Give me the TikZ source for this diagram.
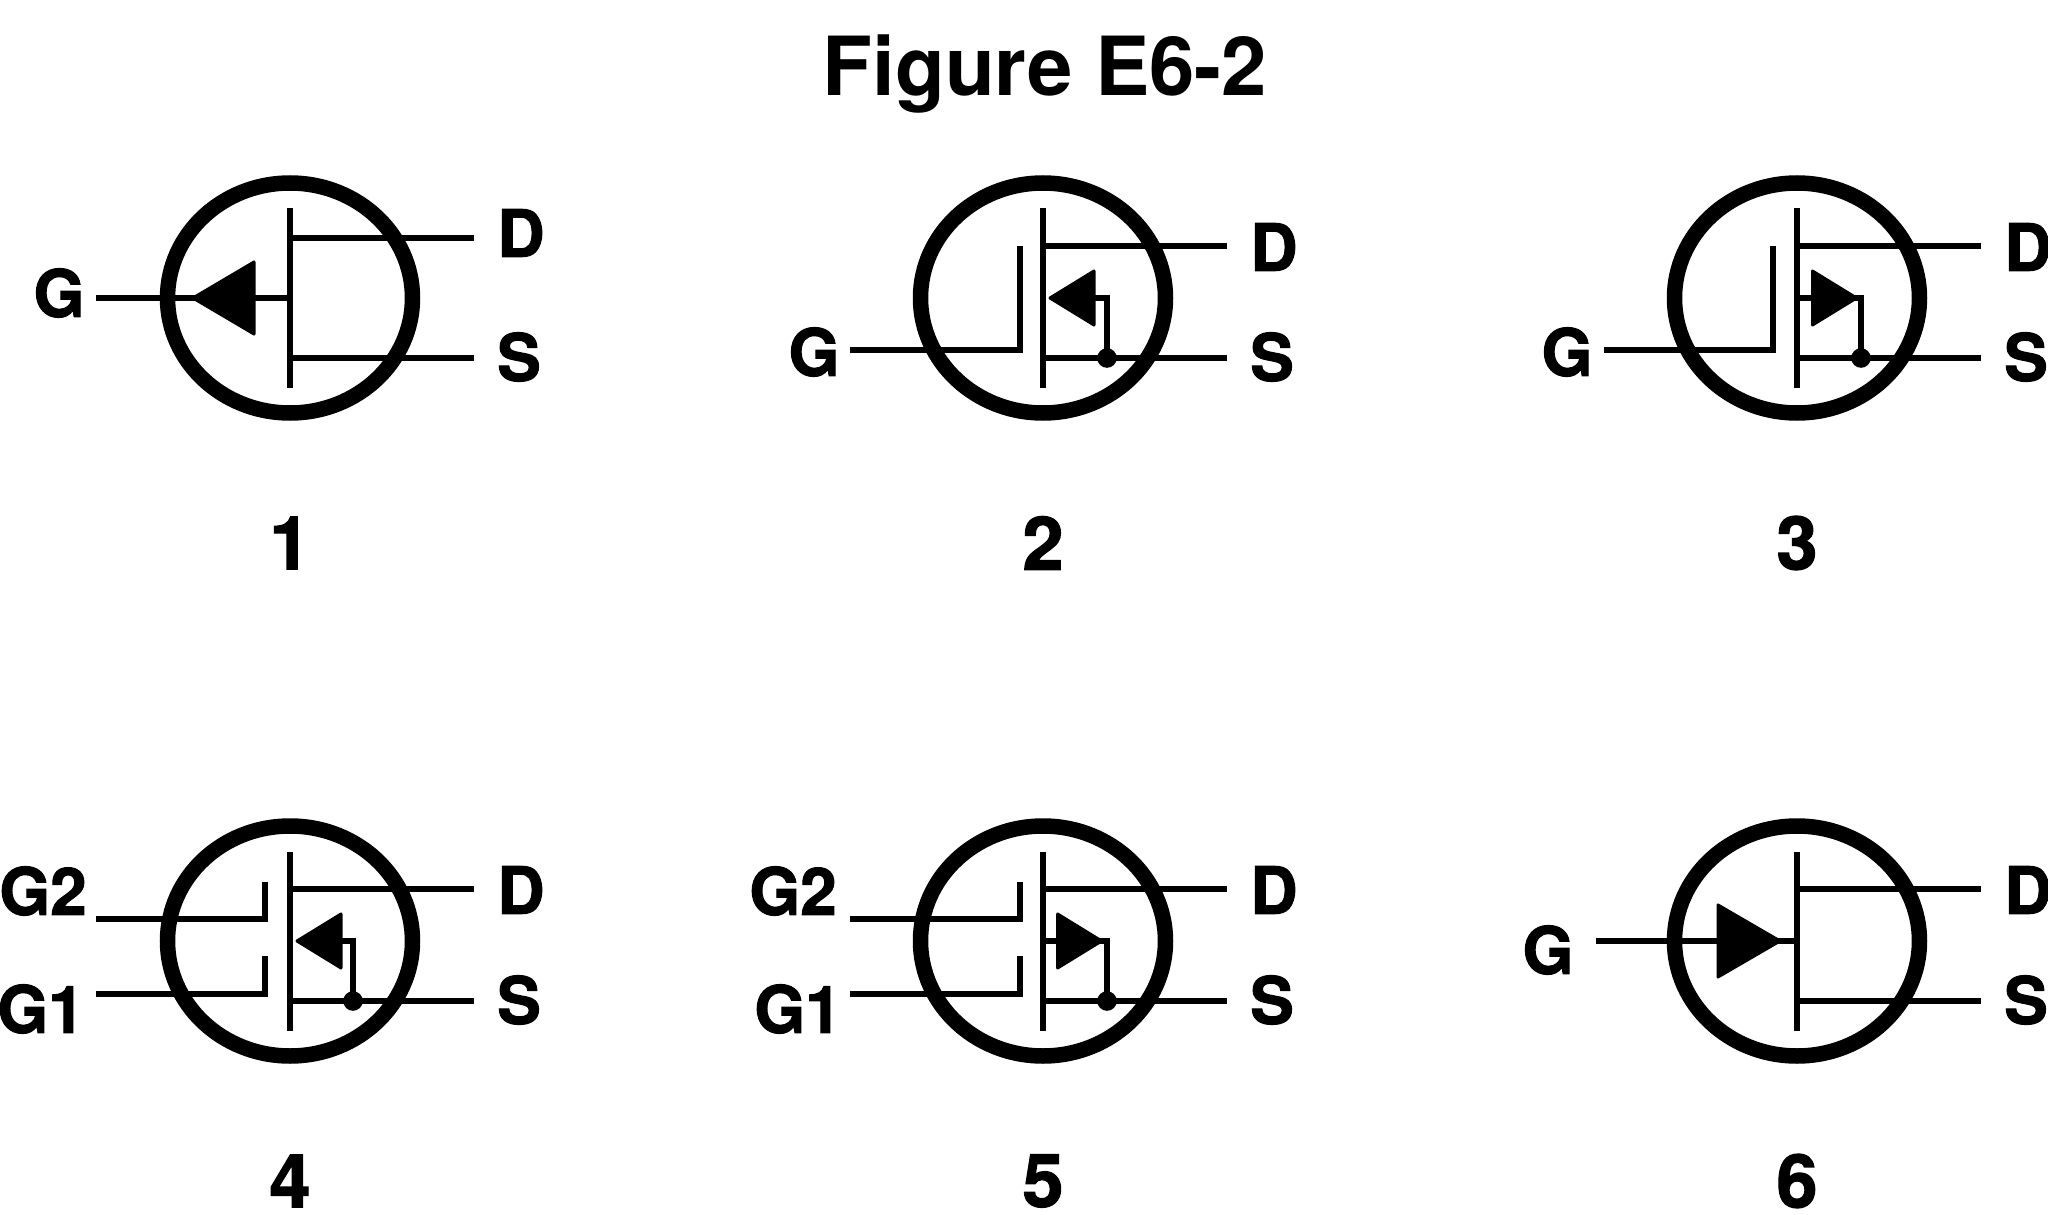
\documentclass[tikz,border=0pt]{standalone}
\usepackage{fontspec}
\setmainfont{TeX Gyre Heros}
\newfontfamily\pinfont[BoldFeatures={FakeBold=1.6}]{TeX Gyre Heros}
\tikzset{
    wire/.style={line width=.06cm, line cap=butt, line join=miter},
    case/.style={line width=.155cm},
    arrowhead/.style={fill=black, draw=black, line width=.03cm, line join=round},
    pin/.style={font=\pinfont\bfseries\fontsize{18.6}{20}\selectfont, inner sep=0pt},
    number/.style={font=\pinfont\bfseries\fontsize{21}{24}\selectfont, inner sep=0pt},
}

\begin{document}
\begin{tikzpicture}
    \useasboundingbox (0,0) rectangle (20.48,12.14);

    % ------------------------------------------------------------------
    % Title
    % ------------------------------------------------------------------
    \node[font=\bfseries\fontsize{23.2}{26}\selectfont, inner sep=0pt, text depth=0pt] (title) at (10.45, 11.49) {Figure E6-2};

    % ------------------------------------------------------------------
    % 1. Junction, gate arrow pointing out
    % ------------------------------------------------------------------
    \begin{scope}[shift={(2.90, 9.16)}]
        \draw[wire] (0,-.90) -- (0,.90);
        \draw[wire] (0,.60) -- (1.84,.60);
        \draw[wire] (0,-.60) -- (1.84,-.60);
        \draw[wire] (-1.94,0) -- (0,0);
        \filldraw[arrowhead] (-.97,0) -- (-.36,.36) -- (-.36,-.36) -- cycle;
        \draw[case] (0,0) ellipse (1.225cm and 1.15cm);
        \node[pin] (gone) at (-2.31,.05) {G};
        \node[pin] (done) at (2.31,.65) {D};
        \node[pin] (sone) at (2.29,-.59) {S};
        \node[number] (none) at (0,-2.45) {1};
    \end{scope}

    % ------------------------------------------------------------------
    % 2. Single gate, channel arrow pointing in
    % ------------------------------------------------------------------
    \begin{scope}[shift={(10.43, 9.16)}]
        \draw[wire] (0,-.90) -- (0,.90);
        \draw[wire] (0,.52) -- (1.84,.52);
        \draw[wire] (0,-.60) -- (1.84,-.60);
        \draw[wire] (-1.93,-.52) -- (-.23,-.52) -- (-.23,.52);
        \draw[wire] (.52,0) -- (.64,0) -- (.64,-.60);
        \filldraw[arrowhead] (.07,0) -- (.51,.27) -- (.51,-.27) -- cycle;
        \fill (.64,-.60) circle (.098cm);
        \draw[case] (0,0) ellipse (1.225cm and 1.15cm);
        \node[pin] (gtwo) at (-2.29,-.54) {G};
        \node[pin] (dtwo) at (2.31,.51) {D};
        \node[pin] (stwo) at (2.29,-.59) {S};
        \node[number] (ntwo) at (0,-2.45) {2};
    \end{scope}

    % ------------------------------------------------------------------
    % 3. Single gate, channel arrow pointing out
    % ------------------------------------------------------------------
    \begin{scope}[shift={(17.97, 9.16)}]
        \draw[wire] (0,-.90) -- (0,.90);
        \draw[wire] (0,.52) -- (1.84,.52);
        \draw[wire] (0,-.60) -- (1.84,-.60);
        \draw[wire] (-1.93,-.52) -- (-.24,-.52) -- (-.24,.52);
        \draw[wire] (0,0) -- (.64,0) -- (.64,-.60);
        \filldraw[arrowhead] (.595,0) -- (.155,.27) -- (.155,-.27) -- cycle;
        \fill (.64,-.60) circle (.098cm);
        \draw[case] (0,0) ellipse (1.225cm and 1.15cm);
        \node[pin] (gthree) at (-2.30,-.54) {G};
        \node[pin] (dthree) at (2.31,.51) {D};
        \node[pin] (sthree) at (2.29,-.59) {S};
        \node[number] (nthree) at (0,-2.45) {3};
    \end{scope}

    % ------------------------------------------------------------------
    % 4. Dual gate, channel arrow pointing in
    % ------------------------------------------------------------------
    \begin{scope}[shift={(2.90, 2.73)}]
        \draw[wire] (0,-.895) -- (0,.895);
        \draw[wire] (0,.525) -- (1.84,.525);
        \draw[wire] (0,-.60) -- (1.84,-.60);
        \draw[wire] (-1.94,.22) -- (-.25,.22) -- (-.25,.595);
        \draw[wire] (-1.94,-.53) -- (-.25,-.53) -- (-.25,-.15);
        \draw[wire] (.52,0) -- (.63,0) -- (.63,-.60);
        \filldraw[arrowhead] (.07,0) -- (.51,.27) -- (.51,-.27) -- cycle;
        \fill (.63,-.60) circle (.098cm);
        \draw[case] (0,0) ellipse (1.225cm and 1.15cm);
        \node[pin] (gtwofour) at (-2.47,.50) {G2};
        \node[pin] (gonefour) at (-2.49,-.68) {G1};
        \node[pin] (dfour) at (2.31,.51) {D};
        \node[pin] (sfour) at (2.29,-.59) {S};
        \node[number] (nfour) at (0,-2.40) {4};
    \end{scope}

    % ------------------------------------------------------------------
    % 5. Dual gate, channel arrow pointing out
    % ------------------------------------------------------------------
    \begin{scope}[shift={(10.43, 2.73)}]
        \draw[wire] (0,-.895) -- (0,.895);
        \draw[wire] (0,.525) -- (1.84,.525);
        \draw[wire] (0,-.60) -- (1.84,-.60);
        \draw[wire] (-1.93,.22) -- (-.23,.22) -- (-.23,.595);
        \draw[wire] (-1.93,-.53) -- (-.23,-.53) -- (-.23,-.15);
        \draw[wire] (0,0) -- (.64,0) -- (.64,-.60);
        \filldraw[arrowhead] (.586,0) -- (.146,.27) -- (.146,-.27) -- cycle;
        \fill (.64,-.60) circle (.098cm);
        \draw[case] (0,0) ellipse (1.225cm and 1.15cm);
        \node[pin] (gtwofive) at (-2.50,.50) {G2};
        \node[pin] (gonefive) at (-2.45,-.68) {G1};
        \node[pin] (dfive) at (2.31,.51) {D};
        \node[pin] (sfive) at (2.29,-.59) {S};
        \node[number] (nfive) at (0,-2.40) {5};
    \end{scope}

    % ------------------------------------------------------------------
    % 6. Junction, gate arrow pointing in
    % ------------------------------------------------------------------
    \begin{scope}[shift={(17.97, 2.73)}]
        \draw[wire] (0,-.895) -- (0,.895);
        \draw[wire] (0,.525) -- (1.84,.525);
        \draw[wire] (0,-.60) -- (1.84,-.60);
        \draw[wire] (-2.01,0) -- (0,0);
        \filldraw[arrowhead] (-.17,0) -- (-.79,.36) -- (-.79,-.36) -- cycle;
        \draw[case] (0,0) ellipse (1.225cm and 1.15cm);
        \node[pin] (gsix) at (-2.49,-.09) {G};
        \node[pin] (dsix) at (2.31,.51) {D};
        \node[pin] (ssix) at (2.29,-.59) {S};
        \node[number] (nsix) at (0,-2.40) {6};
    \end{scope}

\end{tikzpicture}
\end{document}
